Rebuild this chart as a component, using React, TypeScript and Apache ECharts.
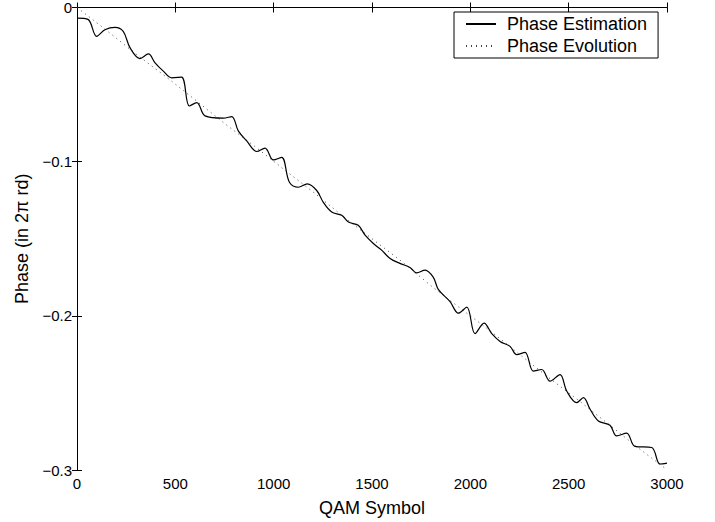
import React, { useEffect, useRef } from "react";
import * as echarts from "echarts";

const estX = [0, 56, 100, 142, 193, 235, 270, 320, 363, 397, 439, 482, 532, 571, 609, 651, 744, 787, 820, 863, 914, 956, 998, 1041, 1080, 1125, 1171, 1219, 1252, 1295, 1346, 1380, 1430, 1465, 1507, 1549, 1592, 1642, 1693, 1727, 1770, 1812, 1837, 1897, 1939, 1982, 2024, 2070, 2109, 2151, 2202, 2236, 2278, 2320, 2363, 2405, 2456, 2490, 2541, 2575, 2609, 2651, 2710, 2744, 2795, 2837, 2922, 2964, 3000];
const estY = [-0.0069, -0.0077, -0.0187, -0.0144, -0.0129, -0.0155, -0.0262, -0.0331, -0.0301, -0.0359, -0.0413, -0.0456, -0.0452, -0.0639, -0.0617, -0.0703, -0.0718, -0.0708, -0.08, -0.0865, -0.0934, -0.0912, -0.0989, -0.0972, -0.1134, -0.1166, -0.1144, -0.1187, -0.1263, -0.1327, -0.1348, -0.1392, -0.1413, -0.1477, -0.1531, -0.1574, -0.1628, -0.166, -0.1686, -0.1721, -0.1703, -0.175, -0.1828, -0.1908, -0.1983, -0.1944, -0.2116, -0.2047, -0.2116, -0.2166, -0.2198, -0.2252, -0.2237, -0.2359, -0.2348, -0.2424, -0.2381, -0.2488, -0.2563, -0.2531, -0.2606, -0.2682, -0.271, -0.2779, -0.2761, -0.2847, -0.2854, -0.2961, -0.2955];

const evoX = [0, 150, 300, 450, 600, 750, 900, 1050, 1200, 1350, 1500, 1650, 1800, 1950, 2100, 2250, 2400, 2550, 2700, 2850, 3000];
const evoY = [0, -0.0148, -0.0302, -0.0447, -0.0598, -0.0752, -0.0897, -0.1048, -0.1196, -0.1352, -0.15, -0.1646, -0.1805, -0.1952, -0.2096, -0.225, -0.2402, -0.2548, -0.27, -0.2853, -0.2998];

const seriesNames = ["Phase Estimation", "Phase Evolution"];
const xName = "QAM Symbol";
const yName = "Phase (in 2\u03c0 rd)";

const FONT = "Liberation Sans, Arial, Helvetica, sans-serif";

export default function App() {
  const ref = useRef<HTMLDivElement>(null);
  useEffect(() => {
    if (!ref.current) return;
    const chart = echarts.init(ref.current, undefined, { renderer: "svg" });
    const yFmt = (v: number) => {
      const r = Math.round(v * 10) / 10;
      return r === 0 ? "0" : "\u2212" + Math.abs(r).toFixed(1);
    };
    const xFmt = (v: number) => String(Math.round(v));
    const axisCommon = {
      axisLine: { show: true, lineStyle: { color: "#000", width: 1 } },
      axisTick: { show: true, inside: true, length: 5, lineStyle: { color: "#000" } },
      splitLine: { show: false },
    };
    chart.setOption({
      animation: false,
      backgroundColor: "#fff",
      textStyle: { fontFamily: FONT },
      grid: { left: 77, right: 48, top: 6, bottom: 51, containLabel: false },
      legend: {
        orient: "vertical",
        left: 454,
        top: 12,
        padding: [3, 11, 3, 11],
        itemGap: 4,
        itemWidth: 30,
        itemHeight: 14,
        borderColor: "#000",
        borderWidth: 1,
        backgroundColor: "#fff",
        itemStyle: { opacity: 0 },
        textStyle: { fontFamily: FONT, fontSize: 18, color: "#000", padding: [0, 0, 0, 6] },
        data: seriesNames,
      },
      xAxis: [
        {
          type: "value",
          min: 0,
          max: 3000,
          interval: 500,
          position: "bottom",
          name: xName,
          nameLocation: "middle",
          nameGap: 29,
          nameTextStyle: { fontFamily: FONT, fontSize: 18, color: "#000" },
          axisLabel: { fontFamily: FONT, fontSize: 15, color: "#000", margin: 6, formatter: xFmt },
          ...axisCommon,
        },
        {
          type: "value",
          min: 0,
          max: 3000,
          interval: 500,
          position: "top",
          axisLabel: { show: false },
          ...axisCommon,
        },
      ],
      yAxis: [
        {
          type: "value",
          min: -0.3,
          max: 0,
          interval: 0.1,
          position: "left",
          name: yName,
          nameLocation: "middle",
          nameGap: 44,
          nameTextStyle: { fontFamily: FONT, fontSize: 18, color: "#000" },
          axisLabel: { fontFamily: FONT, fontSize: 15, color: "#000", margin: 5, formatter: yFmt },
          ...axisCommon,
        },
        {
          type: "value",
          min: -0.3,
          max: 0,
          interval: 0.1,
          position: "right",
          axisLabel: { show: false },
          ...axisCommon,
        },
      ],
      series: [
        {
          name: seriesNames[0],
          type: "line",
          data: estX.map((x, i) => [x, estY[i]]),
          showSymbol: false,
          symbol: "none",
          smooth: 0.35,
          clip: true,
          lineStyle: { color: "#000", width: 1.2, type: "solid" },
          itemStyle: { color: "#000" },
          z: 3,
        },
        {
          name: seriesNames[1],
          type: "line",
          data: evoX.map((x, i) => [x, evoY[i]]),
          showSymbol: false,
          symbol: "none",
          clip: true,
          lineStyle: { color: "#444", width: 1, type: [1, 4] },
          itemStyle: { color: "#444" },
          z: 2,
        },
      ],
    });
    return () => chart.dispose();
  }, []);
  return (
    <div
      ref={ref}
      style={{ position: "fixed", left: 0, top: 0, width: 715, height: 522, background: "#fff" }}
    />
  );
}
